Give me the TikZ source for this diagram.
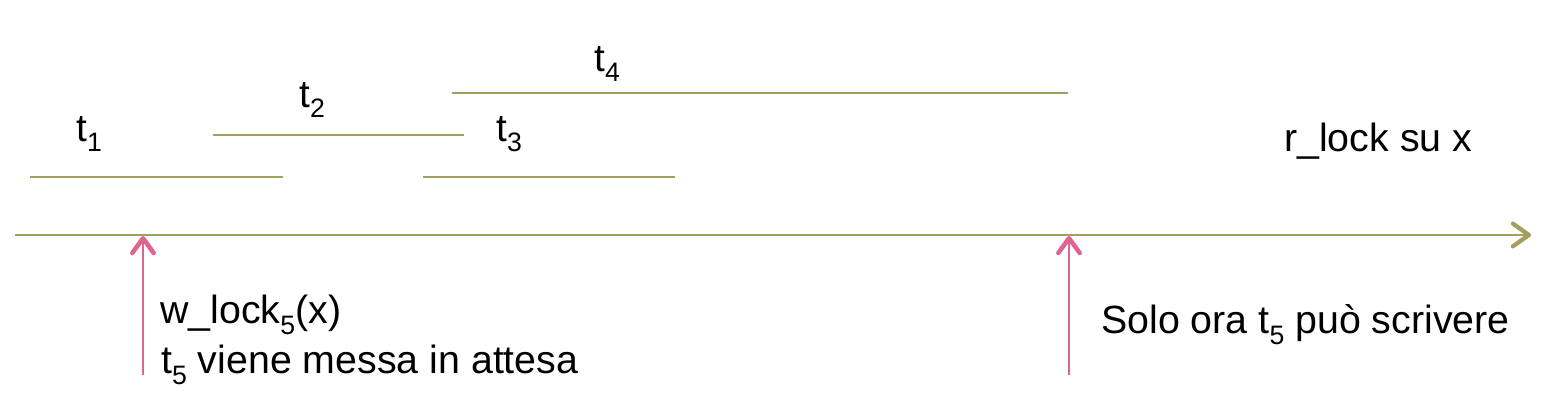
\documentclass[tikz,border=0pt]{standalone}
\usepackage{fontspec}
\setmainfont{Liberation Sans}
\usetikzlibrary{arrows.meta}
\definecolor{olive}{HTML}{A39F5E}
\definecolor{pinkarr}{HTML}{E0648E}
\newcommand\lowsub[2]{\raisebox{-#2}{\fontsize{20}{24}\selectfont #1}}
\begin{document}
\begin{tikzpicture}[x=0.75pt,y=-0.75pt,
  tline/.style={draw=olive,line width=1.5pt},
  axisline/.style={draw=olive,line width=2.2pt,-{Straight Barb[length=12pt,width=17pt,round,line width=3.2pt]}},
  pinkline/.style={draw=pinkarr,line width=2.2pt,-{Straight Barb[length=11pt,width=16pt,round,line width=3.4pt]}},
  tlab/.style={anchor=base west,inner sep=0pt,font=\fontsize{29}{33}\selectfont},
  txt/.style={anchor=base west,inner sep=0pt,font=\fontsize{29.5}{34}\selectfont}]
\useasboundingbox (0,0) rectangle (1556,420);
% transaction lines
\coordinate (t1a) at (30,177); \coordinate (t1b) at (283,177);
\coordinate (t2a) at (213,135); \coordinate (t2b) at (464,135);
\coordinate (t3a) at (423,177); \coordinate (t3b) at (675,177);
\coordinate (t4a) at (452,93); \coordinate (t4b) at (1068,93);
\draw[tline] (t1a) -- (t1b);
\draw[tline] (t2a) -- (t2b);
\draw[tline] (t3a) -- (t3b);
\draw[tline] (t4a) -- (t4b);
\node[tlab] (l1) at (76,142) {t\lowsub{1}{0.25em}};
\node[tlab] (l2) at (299,108) {t\lowsub{2}{0.25em}};
\node[tlab] (l3) at (496,142) {t\lowsub{3}{0.25em}};
\node[tlab] (l4) at (594,72) {t\lowsub{4}{0.25em}};
% axis
\coordinate (ax0) at (15,235);
\coordinate (ax1) at (1531,235);
\draw[axisline] (ax0) -- (ax1);
\node[txt] (rl) at (1284,152) {r\_lock su x};
% pink arrows
\coordinate (p1s) at (143,375); \coordinate (p1e) at (143,236);
\coordinate (p2s) at (1069,375); \coordinate (p2e) at (1069,236);
\draw[pinkline] (p1s) -- (p1e);
\draw[pinkline] (p2s) -- (p2e);
\node[txt] (w) at (160,323) {w\_lock\lowsub{5}{0.3em}(x)};
\node[txt] (att) at (161,373) {t\lowsub{5}{0.3em} viene messa in attesa};
\node[txt] (solo) at (1101,333) {Solo ora t\lowsub{5}{0.3em} può scrivere};
\end{tikzpicture}
\end{document}
